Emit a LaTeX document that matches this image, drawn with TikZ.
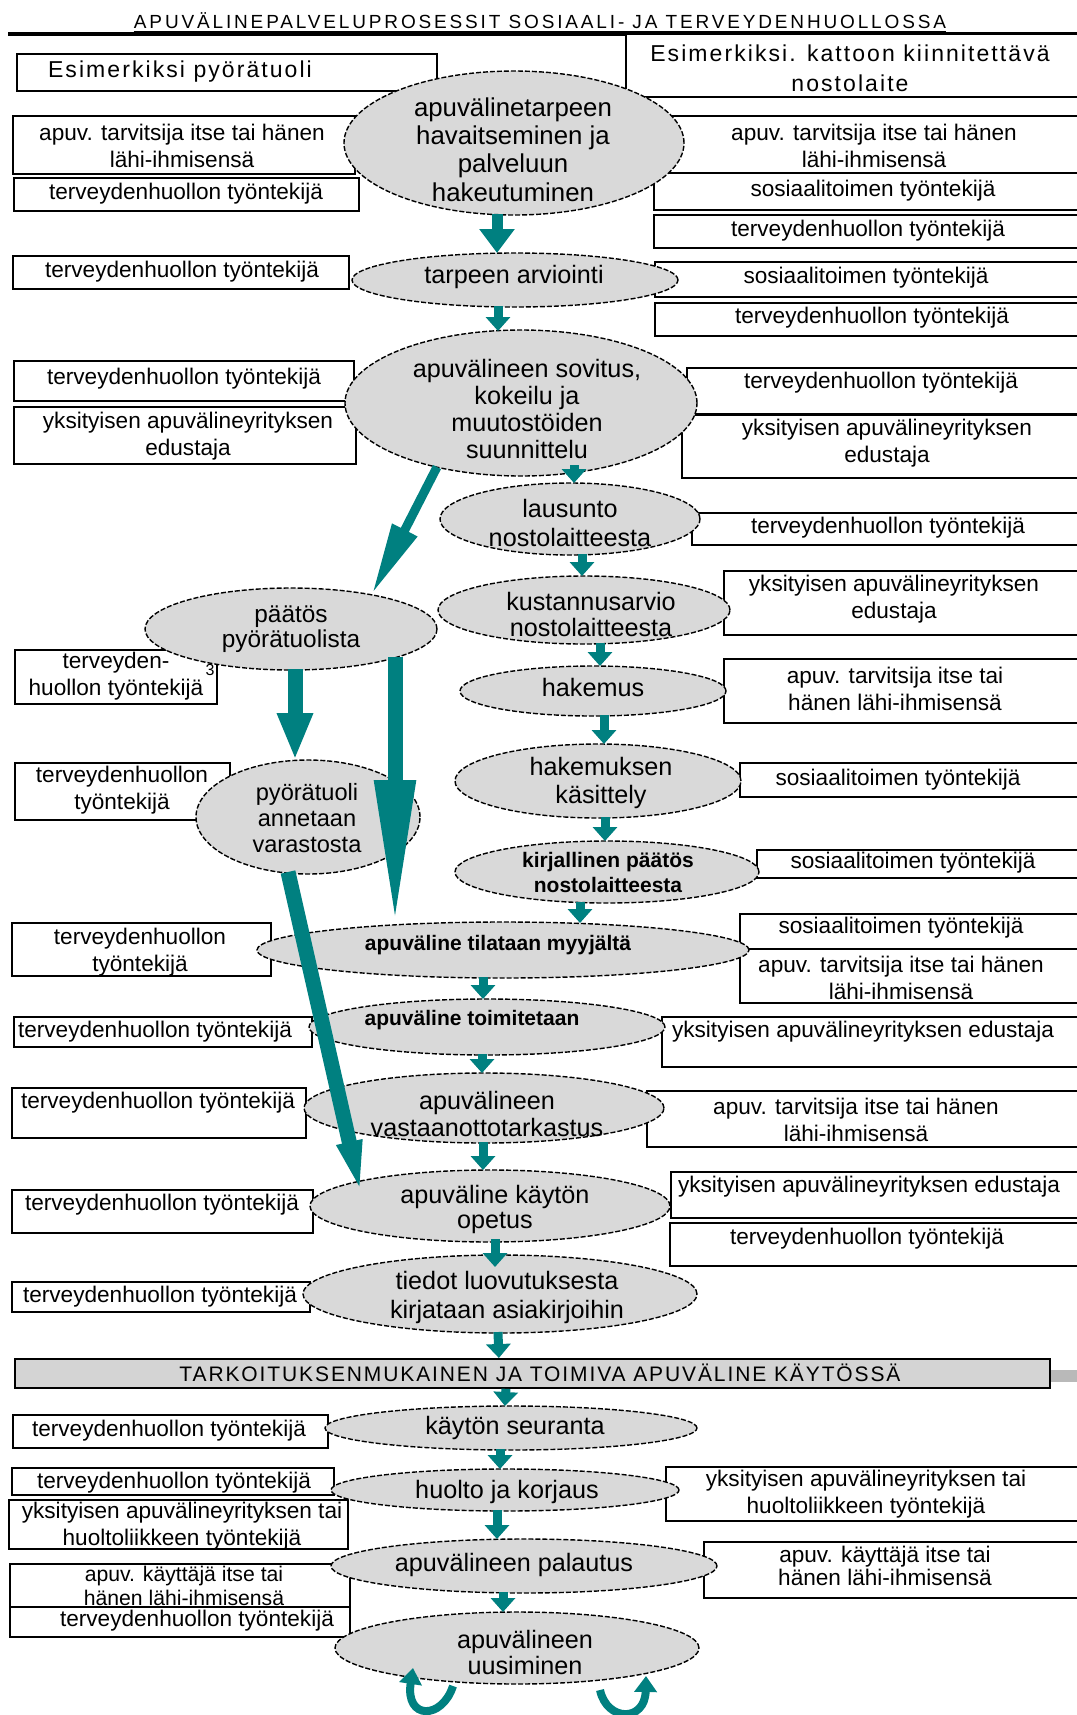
\documentclass[tikz,border=0pt]{standalone}
\usepackage{fontspec}
\setmainfont{Liberation Sans}
\usetikzlibrary{shapes.geometric,arrows.meta,calc}
\definecolor{tealc}{RGB}{0,128,128}
\definecolor{ellg}{RGB}{217,217,217}
\definecolor{barg}{RGB}{212,212,212}
\newcommand\bx[9][]{%
 \pgfmathsetmacro\bxw{(#5-#3)*0.5}%
 \pgfmathsetmacro\bxh{(#6-#4)*0.5}%
 \node[box,minimum width=\bxw pt,minimum height=\bxh pt,anchor=north west] (#2) at (#3,#4) {};%
 \node[boxtext,#1] (#2t) at (#7,#8) {#9};}
\newcommand\el[9][]{%
 \node[ell,minimum width=#5pt,minimum height=#6pt] (#2) at (#3,#4) {};%
 \node[elltext,#1] (#2t) at (#7,#8) {#9};}
\begin{document}
\begin{tikzpicture}[x=0.5pt,y=-0.5pt,
 box/.style={rectangle,draw=black,line width=0.9pt,fill=white,inner sep=0pt,outer sep=0pt},
 boxtext/.style={inner sep=0pt,align=center,font=\fontsize{11.3}{13.5}\selectfont},
 ell/.style={ellipse,draw=black,fill=ellg,line width=0.7pt,dash pattern=on 2.5pt off 1pt,inner sep=0pt,outer sep=0pt},
 elltext/.style={inner sep=0pt,align=center,font=\fontsize{12.6}{13.5}\selectfont},
 ebold/.style={font=\fontsize{10.5}{12.5}\selectfont\bfseries},
 tarr/.style n args={3}{draw=tealc,line width=#1,-{Triangle[length=#2,width=#3]}},
 sarr/.style={tarr={4.5pt}{7pt}{12pt}},
]
\useasboundingbox (0,0) rectangle (1077,1715);
\fill[white] (0,0) rectangle (1077,1715);

% title
\node[inner sep=0pt,font=\fontsize{9.5}{11}\selectfont\addfontfeatures{LetterSpace=15}] (title) at (540,21) {APUVÄLINEPALVELUPROSESSIT SOSIAALI- JA TERVEYDENHUOLLOSSA};
\draw[line width=0.5pt] ([yshift=-1.2pt]title.south west) -- ([yshift=-1.2pt]title.south east);
\draw[line width=2pt] (8,34) -- (1085,34);

% left boxes
\bx[font=\fontsize{11.5}{13}\selectfont\addfontfeatures{LetterSpace=9}]{b1}{17}{54}{437}{91}{180}{72}{Esimerkiksi pyörätuoli}
\bx{b2}{13}{116}{355}{174}{182}{145.5}{apuv. tarvitsija itse tai hänen\\lähi-ihmisensä}
\bx{b3}{14}{178}{359}{211}{186}{194}{terveydenhuollon työntekijä}
\bx{b4}{13}{256}{349}{289}{182}{272}{terveydenhuollon työntekijä}
\bx{b10l}{14}{361}{354}{401}{184}{379}{terveydenhuollon työntekijä}
\bx{b11l}{14}{407}{356}{464}{188}{436}{yksityisen apuvälineyrityksen\\edustaja}
\bx{b33}{15}{650}{217}{704}{116}{676}{terveyden-\\huollon työntekijä}
\bx{b34}{15}{763}{230}{820}{122}{790}{terveydenhuollon\\työntekijä}
\bx{b35}{12}{923}{271}{976}{140}{952}{terveydenhuollon\\työntekijä}
\bx{b36}{14}{1017}{312}{1047}{155}{1032}{terveydenhuollon työntekijä}
\bx{b37}{12}{1088}{306}{1138}{158}{1103}{terveydenhuollon työntekijä}
\bx{b38}{12}{1190}{313}{1233}{162}{1205}{terveydenhuollon työntekijä}
\bx{b39}{12}{1282}{310}{1312}{160}{1297}{terveydenhuollon työntekijä}
\bx{b26}{13}{1415}{328}{1448}{169}{1431}{terveydenhuollon työntekijä}
\bx{b27}{12}{1468}{334}{1495}{174}{1483}{terveydenhuollon työntekijä}
\bx{b28}{9}{1500}{348}{1549}{182}{1526}{yksityisen apuvälineyrityksen tai\\huoltoliikkeen työntekijä}
\bx[font=\fontsize{10.6}{11.6}\selectfont]{b29}{10}{1564}{350}{1607}{184}{1586}{apuv. käyttäjä itse tai\\hänen lähi-ihmisensä}
\bx{b30}{10}{1607}{350}{1637}{197}{1621}{terveydenhuollon työntekijä}
\node[inner sep=0pt,font=\fontsize{8}{8}\selectfont] (n3) at (210,670) {3};

% right boxes
\bx[font=\fontsize{11.5}{15}\selectfont\addfontfeatures{LetterSpace=9}]{b5}{626}{34}{1085}{97}{850}{68}{Esimerkiksi. kattoon kiinnitettävä\\nostolaite}
\bx{b6}{650}{116}{1085}{173}{874}{145.5}{apuv. tarvitsija itse tai hänen\\lähi-ihmisensä}
\bx{b7}{654}{173}{1085}{210}{873}{191}{sosiaalitoimen työntekijä}
\bx{b8}{654}{215}{1085}{248}{868}{231}{terveydenhuollon työntekijä}
\bx{b9}{655}{262}{1085}{297}{866}{278}{sosiaalitoimen työntekijä}
\bx{b10}{655}{303}{1085}{336}{872}{318}{terveydenhuollon työntekijä}
\bx{b12}{687}{368}{1085}{414}{881}{383}{terveydenhuollon työntekijä}
\bx{b13}{682}{415}{1085}{478}{887}{443.5}{yksityisen apuvälineyrityksen\\edustaja}
\bx{b14}{692}{513}{1085}{545}{888}{528}{terveydenhuollon työntekijä}
\bx{b15}{724}{571}{1085}{635}{894}{599}{yksityisen apuvälineyrityksen\\edustaja}
\bx{b16}{724}{659}{1085}{723}{895}{688.5}{apuv. tarvitsija itse tai\\hänen lähi-ihmisensä}
\bx{b17}{740}{763}{1085}{797}{898}{780}{sosiaalitoimen työntekijä}
\bx{b18}{757}{850}{1085}{878}{913}{863}{sosiaalitoimen työntekijä}
\bx{b19}{740}{914}{1085}{949}{901}{928}{sosiaalitoimen työntekijä}
\bx{b20}{740}{949}{1085}{1003}{901}{978}{apuv. tarvitsija itse tai hänen\\lähi-ihmisensä}
\bx{b21}{662}{1017}{1085}{1067}{863}{1032}{yksityisen apuvälineyrityksen edustaja}
\bx{b22}{647}{1091}{1085}{1147}{856}{1119.5}{apuv. tarvitsija itse tai hänen\\lähi-ihmisensä}
\bx{b23}{671}{1172}{1085}{1218}{869}{1187}{yksityisen apuvälineyrityksen edustaja}
\bx{b24}{670}{1223}{1085}{1266}{867}{1239}{terveydenhuollon työntekijä}
\bx{b31}{666}{1467}{1085}{1521}{866}{1494}{yksityisen apuvälineyrityksen tai\\huoltoliikkeen työntekijä}
\bx[font=\fontsize{11.3}{11.6}\selectfont]{b32}{704}{1542}{1085}{1598}{885}{1566}{apuv. käyttäjä itse tai\\hänen lähi-ihmisensä}

% bar
\fill[gray!55] (1049,1370) rectangle (1082,1382);
\node[rectangle,draw=black,line width=0.9pt,fill=barg,minimum width=517.5pt,minimum height=14.5pt,anchor=north west,inner sep=0pt] (bar) at (14,1358) {};
\node[inner sep=0pt,font=\fontsize{10.5}{12}\selectfont\addfontfeatures{LetterSpace=9}] (bart) at (540,1373) {TARKOITUKSENMUKAINEN JA TOIMIVA APUVÄLINE KÄYTÖSSÄ};

% ellipses
\el[font=\fontsize{12.9}{14.2}\selectfont]{e1}{514}{143}{170}{72}{513}{149.5}{apuvälinetarpeen\\havaitseminen ja\\palveluun\\hakeutuminen}
\el{e2}{515}{280}{163}{27}{514}{277}{tarpeen arviointi}
\el{e3}{521}{403}{176}{73}{527}{409}{apuvälineen sovitus,\\kokeilu ja\\muutostöiden\\suunnittelu}
\el[font=\fontsize{12.6}{14.5}\selectfont]{e4}{570}{519}{130}{36}{570}{522.5}{lausunto\\nostolaitteesta}
\el[font=\fontsize{12.6}{12.8}\selectfont]{e6}{584}{610}{146}{34}{591}{614.5}{kustannusarvio\\nostolaitteesta}
\el{e7}{593}{691}{133}{25}{593}{687}{hakemus}
\el[font=\fontsize{12.6}{14}\selectfont]{e8}{598}{781}{143}{37}{601}{783}{hakemuksen\\käsittely}
\el[ebold]{e9}{607}{872}{152}{31}{608}{872.5}{kirjallinen päätös\\nostolaitteesta}
\el[ebold]{e10}{503}{950}{246}{28}{498}{945}{apuväline tilataan myyjältä}
\el[ebold]{e11}{487}{1027}{178}{28}{472}{1020}{apuväline toimitetaan}
\el{e12}{484}{1108}{180}{35}{487}{1113.5}{apuvälineen\\vastaanottotarkastus}
\el[font=\fontsize{12.6}{12.8}\selectfont]{e13}{490}{1206}{180}{36}{495}{1209.5}{apuväline käytön\\opetus}
\el[font=\fontsize{12.6}{14.5}\selectfont]{e14}{500}{1294}{197}{39}{507}{1297.5}{tiedot luovutuksesta\\kirjataan asiakirjoihin}
\el{e15}{511}{1428}{186}{22}{515}{1428}{käytön seuranta}
\el{e16}{505}{1490}{174}{21}{507}{1492}{huolto ja korjaus}
\el{e17}{524}{1566}{193}{27}{514}{1565}{apuvälineen palautus}
\el[font=\fontsize{12.6}{12.8}\selectfont]{e18}{517}{1648}{182}{36}{525}{1652.5}{apuvälineen\\uusiminen}
\el[font=\fontsize{12.2}{12.6}\selectfont]{e5}{291}{629}{146}{41}{291}{629.5}{päätös\\pyörätuolista}
\el[font=\fontsize{11.8}{13}\selectfont]{e19}{308}{817}{112}{57}{307}{818.5}{pyörätuoli\\annetaan\\varastosta}

% main chain arrows
\draw[tarr={5.5pt}{12pt}{17pt}] ($(e1)+(-17,71)$) -- ($(e2)+(-18,-27)$);
\draw[sarr] ($(e2)+(-17,26)$) -- ($(e3)+(-23,-72)$);
\draw[sarr] ($(e3)+(53,62)$) -- ($(e4)+(4,-36)$);
\draw[sarr] ($(e4)+(12,35)$) -- ($(e6)+(-2,-34)$);
\draw[sarr] ($(e6)+(16,33)$) -- ($(e7)+(7,-25)$);
\draw[sarr] ($(e7)+(11,24)$) -- ($(e8)+(6,-37)$);
\draw[sarr] ($(e8)+(7,36)$) -- ($(e9)+(-2,-31)$);
\draw[sarr] ($(e9)+(-27,30)$) -- ($(e10)+(77,-27)$);
\draw[sarr] ($(e10)+(-20,27)$) -- ($(e11)+(-4,-28)$);
\draw[sarr] ($(e11)+(-5,27)$) -- ($(e12)+(-2,-35)$);
\draw[sarr] ($(e12)+(-1,34)$) -- ($(e13)+(-7,-36)$);
\draw[sarr] ($(e13)+(5,33)$) -- ($(e14)+(-5,-27)$);
\draw[sarr] ($(e14)+(-2,38)$) -- ($(bar.north)+(-33.5,0)$);
\draw[sarr] ($(bar.south)+(-26.5,0)$) -- ($(e15)+(-6,-22)$);
\draw[sarr] ($(e15)+(-11,21)$) -- ($(e16)+(-5,-21)$);
\draw[sarr] ($(e16)+(-8,20)$) -- ($(e17)+(-27,-27)$);
\draw[sarr] ($(e17)+(-21,26)$) -- ($(e18)+(-14,-36)$);

% wheelchair branch
\draw[tarr={4.5pt}{36pt}{13pt}] ($(e3)+(-84,64)$) -- ($(e5)+(81,-35)$);
\draw[tarr={7.5pt}{23.5pt}{16.5pt}] ($(e5)+(4,40)$) -- ($(e19)+(-13,-57)$);
\draw[tarr={7.5pt}{72.5pt}{19pt}] ($(e5)+(104,28)$) -- ($(e10)+(-108,-25)$);
\draw[tarr={7.5pt}{40pt}{10pt}] ($(e19)+(-20,55)$) -- ($(e13)+(-123,14)$);

% renewal loops
\draw[tarr={4pt}{8pt}{11pt}] ($(e18)+(-64,38)$) .. controls ($(e18)+(-75,72)$) and ($(e18)+(-112,72)$) .. ($(e18)+(-104,20)$);
\draw[tarr={4pt}{8pt}{11pt}] ($(e18)+(83,42)$) .. controls ($(e18)+(90,74)$) and ($(e18)+(128,74)$) .. ($(e18)+(129,28)$);
\end{tikzpicture}
\end{document}
